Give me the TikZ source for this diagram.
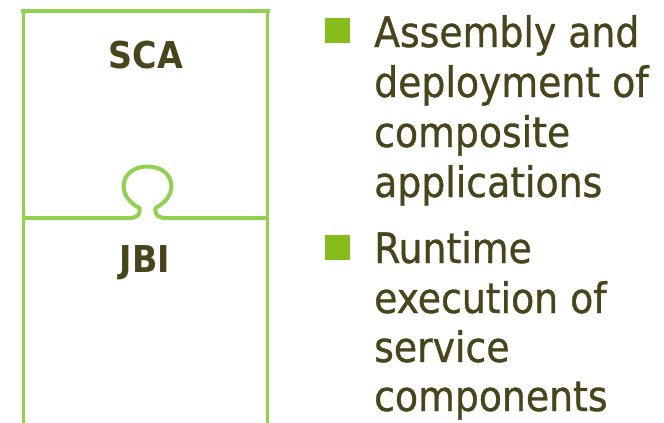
\documentclass[tikz,border=0pt]{standalone}
\usepackage{fontspec}
\newfontfamily\bodyfont{DejaVu Sans Condensed}[BoldFont={DejaVu Sans Condensed Bold}]
\newfontfamily\bodyheavy{DejaVu Sans Condensed}[FakeBold=0.8]
\definecolor{linegreen}{HTML}{92D050}
\definecolor{bulletgreen}{HTML}{86BC1C}
\definecolor{textolive}{HTML}{48441C}
\begin{document}
\begin{tikzpicture}[x=1pt,y=-1pt,
  frame/.style={draw=linegreen,line cap=rect},
  label/.style={text=textolive,font=\bodyfont\bfseries\fontsize{37}{40}\selectfont,inner sep=0pt,anchor=base},
  bodyline/.style={text=textolive,font=\bodyheavy\fontsize{42}{50}\selectfont,inner sep=0pt,anchor=base west},
  bulletsq/.style={fill=bulletgreen,minimum size=25pt,inner sep=0pt,draw=none}]
\useasboundingbox (0,0) rectangle (664,423);
% frame
\coordinate (tl) at (23.5,11);
\coordinate (tr) at (267.7,11);
\coordinate (bl) at (23.5,430);
\coordinate (br) at (267.7,430);
\coordinate (ml) at (23.5,218);
\coordinate (mr) at (267.7,218);
\draw[frame,line width=4.5pt] (tl) -- (tr);
\draw[frame,line width=3.5pt] (tl) -- (bl);
\draw[frame,line width=2.5pt] (tr) -- (br);
% middle line with knob
\draw[draw=linegreen,line width=4pt,line join=round] (ml) -- (128,218)
  .. controls (138,218) and (140,215) .. (139.5,208)
  .. controls (114,195) and (121,166.5) .. (147.5,166.5)
  .. controls (174,166.5) and (181,195) .. (155.5,208)
  .. controls (155,215) and (157,218) .. (167,218) -- (mr);
% labels
\node[label] (sca) at (146,68) {SCA};
\node[label] (jbi) at (145,272) {JBI};
% bullets
\node[bulletsq] (sq1) at (337.5,30.5) {};
\node[bulletsq] (sq2) at (337.5,247) {};
\node[bodyline] (a1) at (374,47) {Assembly and};
\node[bodyline] (a2) at (374,97) {deployment of};
\node[bodyline] (a3) at (374,147) {composite};
\node[bodyline] (a4) at (374,197) {applications};
\node[bodyline] (b1) at (374,263) {Runtime};
\node[bodyline] (b2) at (374,313) {execution of};
\node[bodyline] (b3) at (374,362) {service};
\node[bodyline] (b4) at (374,411) {components};
\end{tikzpicture}
\end{document}
